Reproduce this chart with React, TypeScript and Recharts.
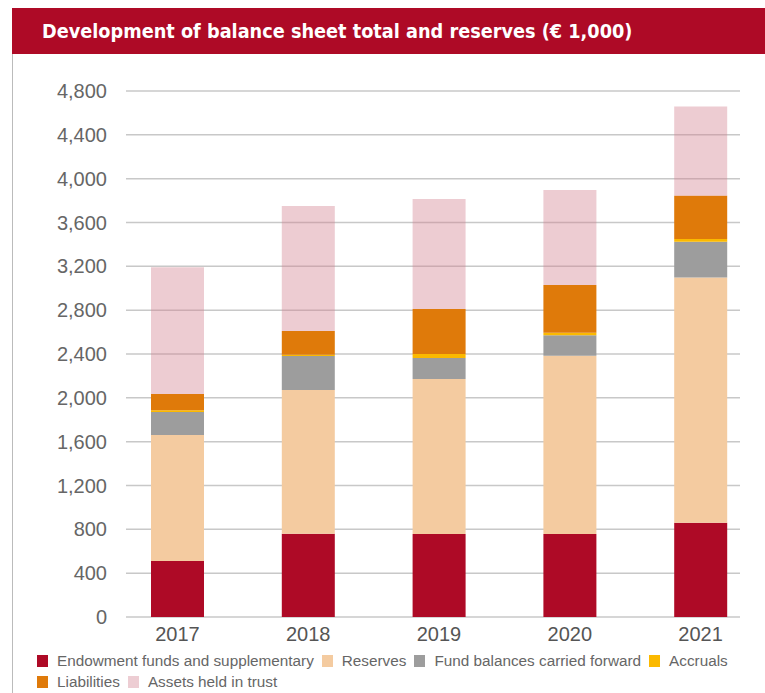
import React from "react";
import { Bar, BarChart, CartesianGrid, Legend, XAxis, YAxis } from "recharts";

const years = ["2017", "2018", "2019", "2020", "2021"];
const endowment = [511, 760, 757, 757, 861];
const reserves = [1150, 1311, 1415, 1627, 2236];
const fundBalances = [210, 311, 191, 186, 328];
const accruals = [15, 12, 37, 24, 25];
const liabilities = [149, 216, 410, 435, 394];
const trustAssets = [1156, 1140, 1004, 867, 815];
const yTicks = [0, 400, 800, 1200, 1600, 2000, 2400, 2800, 3200, 3600, 4000, 4400, 4800];

const series = [
  { key: "endowment", name: "Endowment funds and supplementary", color: "#ae0a26", values: endowment },
  { key: "reserves", name: "Reserves", color: "#f4cba0", values: reserves },
  { key: "fund", name: "Fund balances carried forward", color: "#9d9d9d", values: fundBalances },
  { key: "accruals", name: "Accruals", color: "#fbb900", values: accruals },
  { key: "liabilities", name: "Liabilities", color: "#df7a0a", values: liabilities },
  { key: "trust", name: "Assets held in trust", color: "#d27f8e", values: trustAssets, opacity: 0.4 },
];

const data = years.map((year, i) => {
  const row: any = { year };
  series.forEach((s) => (row[s.key] = s.values[i]));
  return row;
});

const fmt = (v: number) => v.toLocaleString("en-US");

const renderLegend = () => (
  <div
    style={{
      height: 43,
      width: 710,
      paddingLeft: 37,
      display: "flex",
      flexWrap: "wrap",
      alignContent: "flex-start",
      fontFamily: "'Liberation Sans', Arial, sans-serif",
      fontSize: 15.3,
      color: "#666",
      lineHeight: "21px",
    }}
  >
    {series.map((s) => (
      <div key={s.key} style={{ display: "flex", alignItems: "center", marginRight: 8 }}>
        <span
          style={{
            display: "inline-block",
            width: 11,
            height: 12,
            background: s.key === "trust" ? "#edcdd3" : s.color,
            marginRight: 9,
          }}
        />
        {s.name}
      </div>
    ))}
  </div>
);

export default function App() {
  return (
    <div style={{ position: "absolute", left: 0, top: 0, width: 765, height: 693, background: "#fff" }}>
      <div
        style={{
          position: "absolute",
          left: 12,
          top: 8,
          width: 753,
          height: 46,
          background: "#ae0a26",
          color: "#fff",
          fontFamily: "'DejaVu Sans Condensed', 'DejaVu Sans', sans-serif",
          fontStretch: "condensed",
          fontWeight: "bold",
          fontSize: 19.7,
          lineHeight: "47px",
          paddingLeft: 30,
          boxSizing: "border-box",
          whiteSpace: "nowrap",
        }}
      >
        Development of balance sheet total and reserves (€ 1,000)
      </div>
      <div style={{ position: "absolute", left: 12, top: 54, width: 1, height: 639, background: "#bbb" }} />
      <div style={{ position: "absolute", left: 0, top: 0 }}>
        <BarChart width={765} height={693} data={data} margin={{ top: 91, right: 25, bottom: 0, left: 0 }}>
          <CartesianGrid vertical={false} stroke="#c8c8c8" strokeWidth={1.5} />
          <XAxis
            dataKey="year"
            axisLine={false}
            tickLine={false}
            height={33}
            padding={{ left: -14, right: -26 }}
            tick={{ fill: "#555", fontSize: 20, fontFamily: "'Liberation Sans', Arial, sans-serif" }}
            tickMargin={4}
          />
          <YAxis
            width={126}
            domain={[0, 4800]}
            ticks={yTicks}
            tickFormatter={fmt}
            axisLine={false}
            tickLine={false}
            tickSize={0}
            tickMargin={19}
            interval={0}
            tick={{ fill: "#666", fontSize: 20, fontFamily: "'Liberation Sans', Arial, sans-serif" }}
          />
          <Legend verticalAlign="bottom" align="left" content={renderLegend} />
          {series.map((s) => (
            <Bar
              key={s.key}
              dataKey={s.key}
              name={s.name}
              stackId="a"
              fill={s.color}
              fillOpacity={s.opacity ?? 1}
              barSize={53}
              isAnimationActive={false}
            />
          ))}
        </BarChart>
      </div>
    </div>
  );
}
